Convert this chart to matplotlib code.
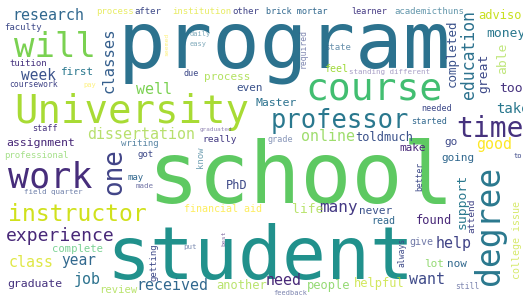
import matplotlib.pyplot as plt

W, H = 523, 297

# word frequencies (counts)
words = [
    "school", "program", "student", "University", "course", "will", "work",
    "degree", "time", "one", "professor", "instructor", "experience",
    "classes", "education", "research", "dissertation", "online", "many",
    "well", "week", "class", "job", "need", "want", "help", "received",
    "year", "good", "completed", "great", "able", "took", "take", "money",
    "support", "advisor", "assignment", "Master", "toldmuch", "found",
    "PhD", "people", "another", "helpful", "life", "graduate", "first",
    "make", "go", "going", "never", "even", "process", "lot", "now",
    "complete", "review", "financial aid", "read", "give", "really",
    "professional", "tuition", "faculty", "writing", "coursework", "feel",
    "state", "institution", "other", "brick mortar", "learner",
    "academicthuns", "after", "process", "needed", "started", "grade",
    "staff", "got", "may", "made", "field quarter", "due", "attend",
    "getting", "college issue", "still", "standing different", "know",
    "required", "daily", "pay", "always", "better", "best", "to",
    "put", "easy", "graduated", "seemed", "feedback",
]
counts = [
    170, 158, 146, 78, 76, 68, 70, 66, 56, 52, 51, 46, 36,
    31, 33, 30, 30, 30, 32,
    30, 29, 30, 30, 30, 30, 30, 30,
    29, 30, 25, 26, 26, 26, 28, 26,
    26, 24, 23, 23, 24, 24,
    24, 24, 24, 24, 26, 23, 22,
    22, 22, 22, 22, 22, 22, 22, 22,
    21, 21, 20, 20, 20, 19,
    18, 18, 18, 18, 16, 20,
    18, 18, 18, 17, 17,
    18, 18, 18, 17, 17, 17,
    17, 18, 18, 15, 15, 17, 19,
    18, 20, 16, 15, 18,
    16, 14, 14, 16, 16, 13, 14,
    15, 14, 12, 13, 14,
]
colors = [
    "#5ec962", "#2c728e", "#21918c", "#a8db34", "#42be71", "#7ad151", "#472d7b",
    "#2a788e", "#46327e", "#414487", "#2a788e", "#d0e11c", "#482878",
    "#355f8d", "#2c728e", "#31688e", "#a6d84acc", "#86d549cc", "#443983",
    "#7ad151", "#3b528b", "#d8e219cc", "#2c728e", "#482878", "#3e4a89", "#414487", "#31688e",
    "#31688e", "#fde725", "#3b528b", "#3e4a89", "#a0da39aa", "#46327e", "#2a788e", "#2a788e",
    "#2a788e", "#c8e020", "#482878", "#2c728e", "#3b528b", "#482878",
    "#3e4a89", "#7ad151cc", "#a0da39bb", "#c2df23bb", "#a0da39bb", "#46327e", "#2a788e",
    "#482878", "#3e4a89", "#31688e", "#3b528b", "#3b528b", "#a0da39cc", "#7ad151cc", "#31688e",
    "#4ac16dbb", "#a0da39bb", "#fde725bb", "#31688e", "#3e4a89bb", "#443a83",
    "#7ad151aa", "#46327e", "#3e4a89", "#31688ecc", "#414487", "#a0da39",
    "#31688ebb", "#dde318aa", "#414487", "#31688e", "#443983",
    "#2c728ebb", "#3e4a89", "#dde318aa", "#3e4a89", "#31688e", "#3b528b99",
    "#46327e", "#3e4a89", "#31688e", "#414487bb", "#3b528bbb", "#3e4a89", "#414487",
    "#3e4a89", "#c2df23aa", "#3e4a89aa", "#6e5fa099", "#2c728eaa",
    "#3e4a89aa", "#2c728e99", "#fde72599", "#3e4a89", "#3e4a89", "#482878aa", "#3e4a89",
    "#3b528baa", "#2c728e99", "#46327e99", "#fde72599", "#3e4a89aa",
]
# placement of each word in the cloud: (x, y, vertical)
# horizontal words: left edge / baseline; vertical words: centre
layout = [
    (147, 203, False), (118, 68, False), (106, 279, False), (14, 123, False),
    (305, 100, False), (14, 57, False), (8, 187, False),
    (489, 225, True), (456, 137, False), (114, 172, True), (271, 128, False),
    (8, 221, False), (6, 241, False),
    (109, 60, True), (469, 55, True), (12, 20, False), (87, 139, False),
    (301, 141, False), (319, 212, False),
    (136, 94, False), (21, 80, False), (9, 267, False), (74, 284, False),
    (266, 285, False), (409, 284, False), (436, 248, False), (136, 290, False),
    (61, 265, False), (476, 149, False), (452, 53, True), (484, 73, True),
    (503, 58, True), (499, 92, False), (496, 113, False), (486, 37, False),
    (462, 201, True), (478, 19, False), (6, 146, False), (256, 106, False),
    (355, 141, False), (416, 224, False),
    (226, 189, False), (307, 289, False), (216, 289, False), (354, 287, False),
    (292, 213, False), (7, 287, False), (61, 75, False),
    (399, 151, False), (444, 145, False), (441, 161, False), (359, 214, False),
    (236, 91, False), (204, 80, False), (424, 267, False), (447, 267, False),
    (52, 252, False), (99, 293, False), (184, 212, False), (371, 224, False),
    (409, 245, False), (202, 142, False),
    (4, 158, False), (9, 66, False), (4, 30, False), (121, 146, False),
    (9, 87, False), (324, 72, False),
    (324, 50, False), (172, 14, False), (232, 14, False), (266, 14, False),
    (351, 14, False),
    (394, 14, False), (134, 14, False), (96, 14, False), (421, 111, False),
    (411, 124, False), (267, 142, False),
    (32, 131, False), (137, 157, False), (127, 180, False), (136, 188, False),
    (24, 194, False), (184, 76, False), (472, 216, True),
    (154, 262, True), (517, 240, True), (455, 289, False), (349, 74, False),
    (201, 157, True),
    (303, 48, True), (190, 36, False), (83, 87, False), (402, 252, True),
    (420, 176, True), (224, 238, True), (514, 158, False),
    (183, 249, False), (190, 46, False), (200, 131, False), (167, 44, True),
    (273, 295, False),
]

fig = plt.figure(figsize=(W / 100, H / 100), dpi=100)
ax = fig.add_axes([0, 0, 1, 1])
ax.set_xlim(0, W)
ax.set_ylim(H, 0)
ax.axis('off')

max_px = 85  # font size (pixels) of the most frequent word
top = max(counts)
for word, n, col, (x, y, vert) in zip(words, counts, colors, layout):
    px = n / top * max_px
    kw = dict(fontsize=px * 0.72, color=col, family='DejaVu Sans Mono')
    if vert:
        ax.text(x, y, word, rotation=90, ha='center', va='center', **kw)
    else:
        ax.text(x, y, word, ha='left', va='baseline', **kw)

fig.savefig('out.png', dpi=100, facecolor='white')
